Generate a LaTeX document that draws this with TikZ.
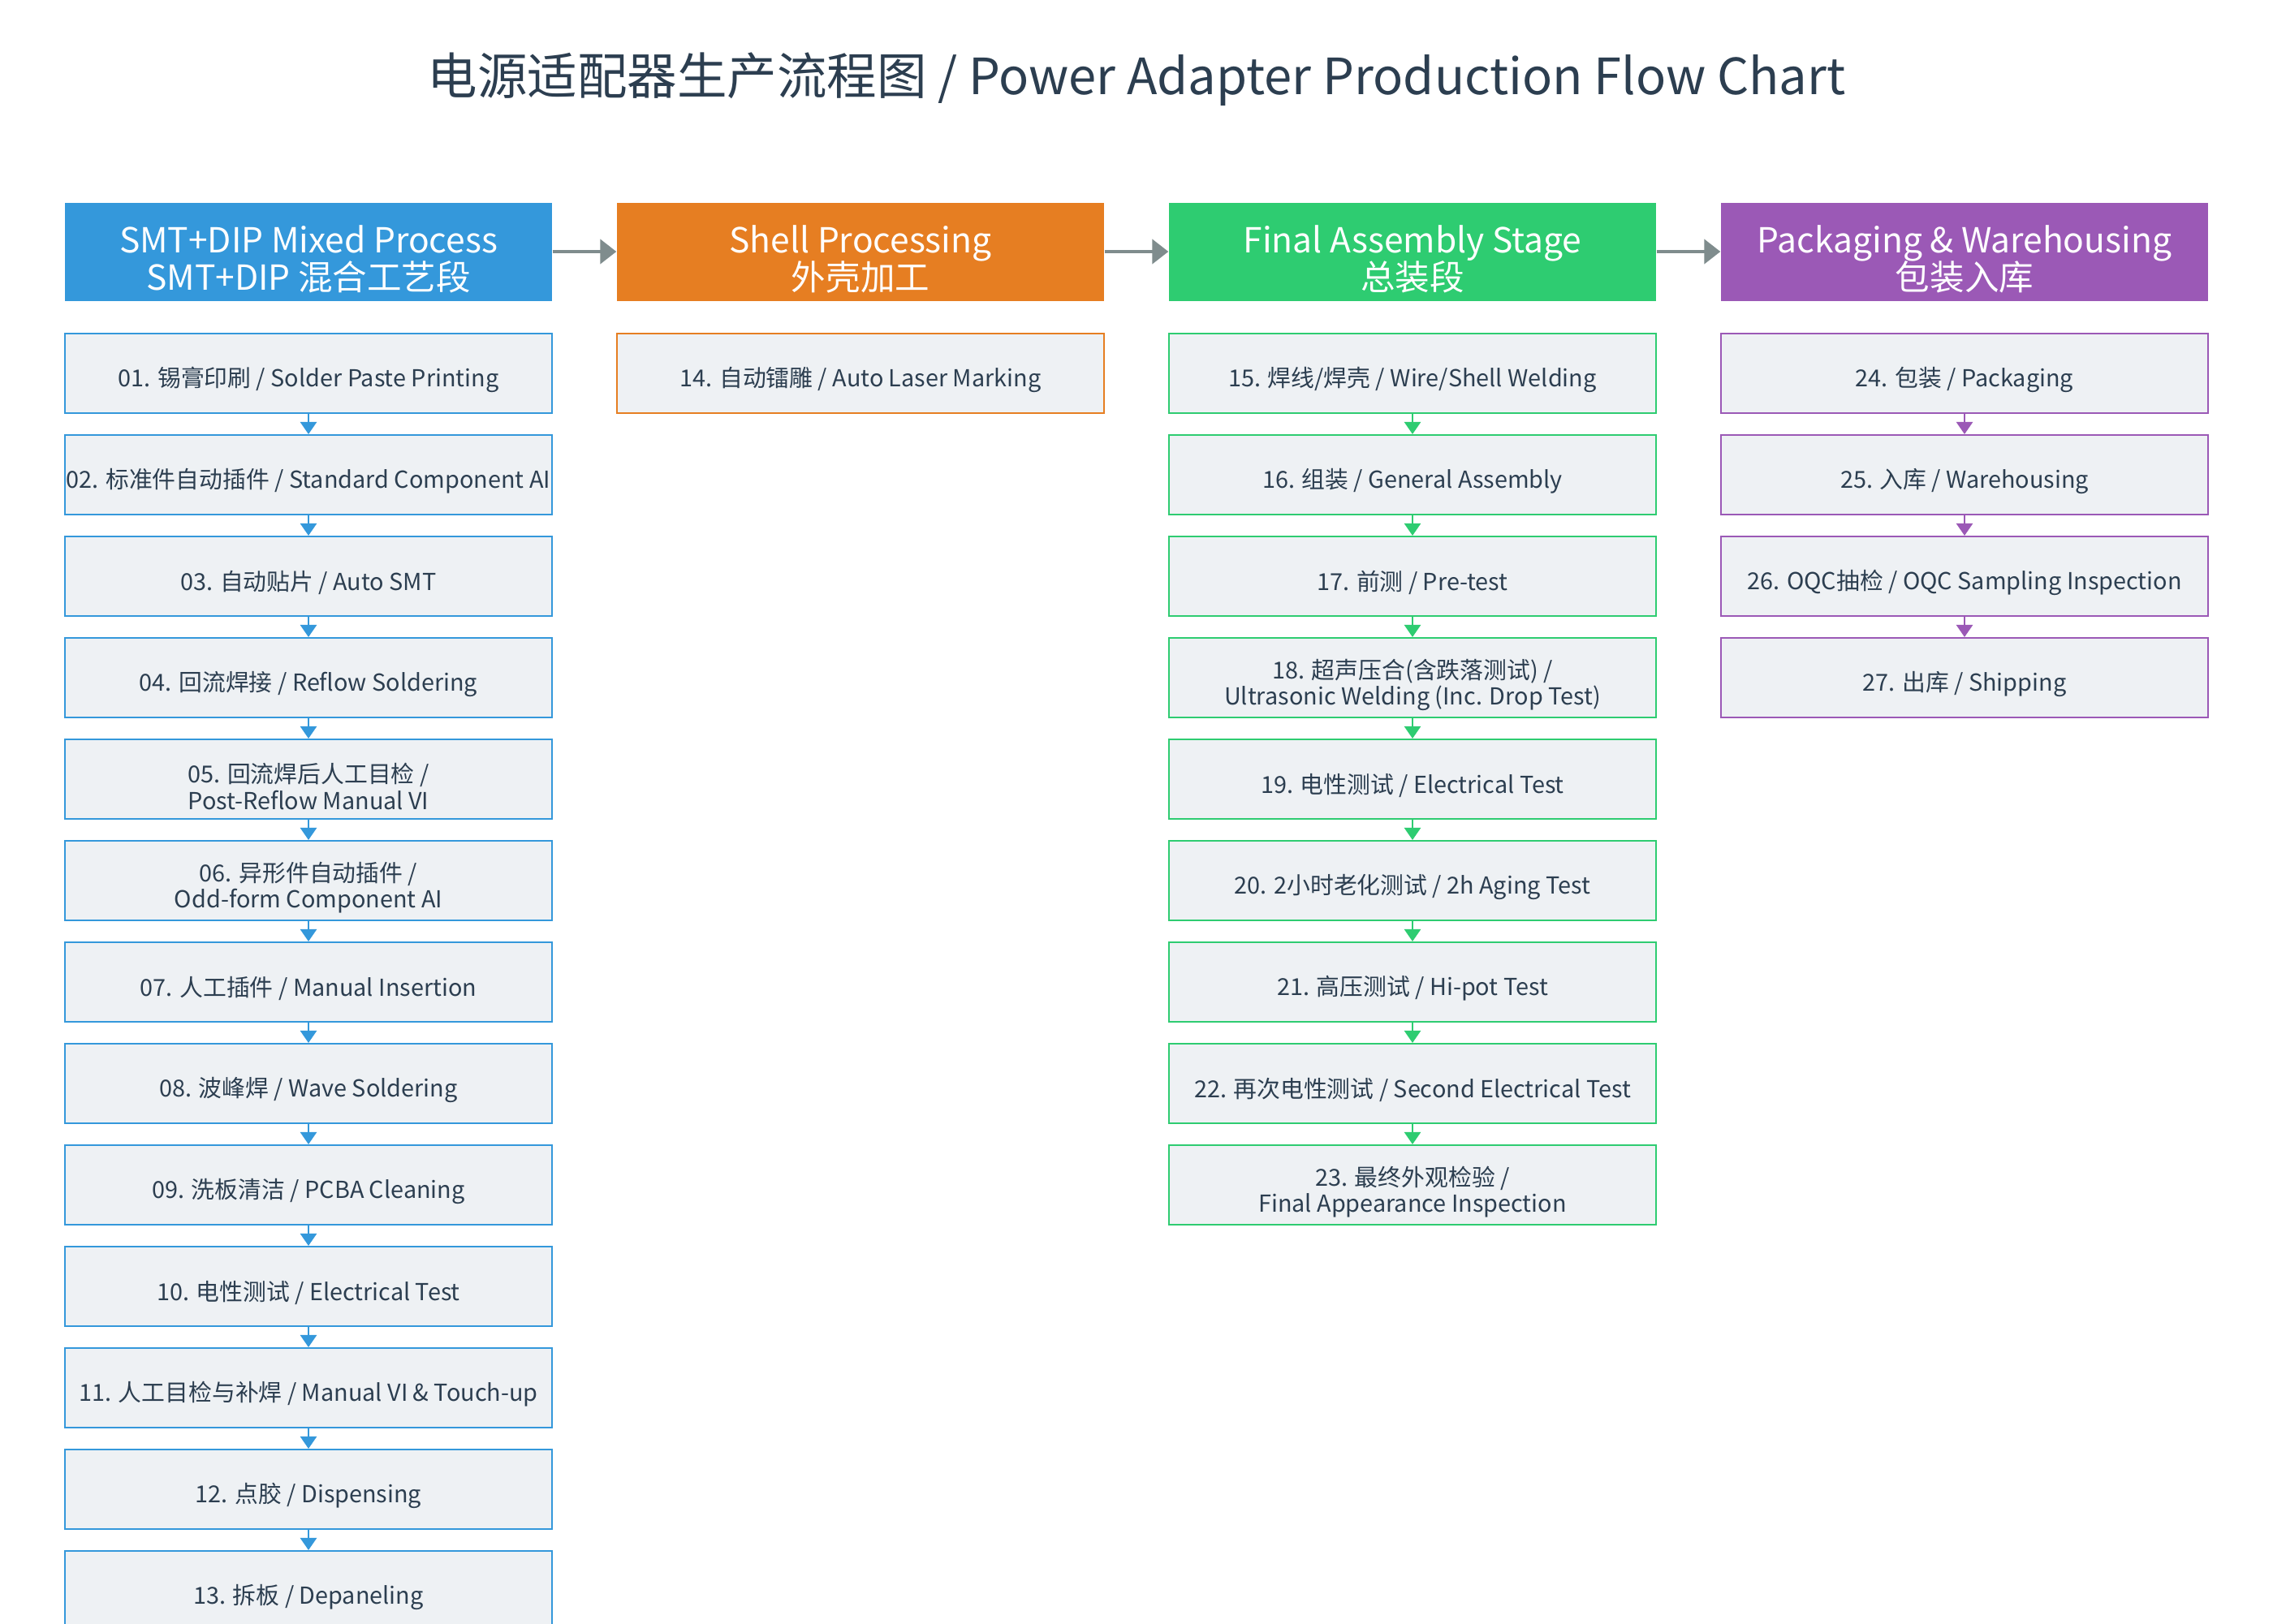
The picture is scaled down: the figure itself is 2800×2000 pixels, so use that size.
\documentclass[tikz,border=0pt]{standalone}
\usepackage{fontspec}
\setmainfont{Noto Sans CJK SC}
\usepackage{tikz}
\usetikzlibrary{positioning,arrows.meta}
\definecolor{smtblue}{HTML}{3498DB}
\definecolor{shellorange}{HTML}{E67E22}
\definecolor{assygreen}{HTML}{2ECC71}
\definecolor{packpurple}{HTML}{9B59B6}
\definecolor{flowgray}{HTML}{7F8C8D}
\definecolor{boxfill}{HTML}{EEF1F4}
\definecolor{ink}{HTML}{2C3E50}
\newcommand{\tightlines}{\lineskiplimit -10pt\relax}

\begin{document}
\begin{tikzpicture}[x=0.1mm, y=-0.1mm,
    textlift/.style={execute at begin node={\rule{0pt}{#1}}},
    header/.style={fill=#1, text=white, minimum width=60mm, minimum height=12.1mm,
        align=center, inner sep=0pt,
        font=\fontsize{12.1pt}{13.1pt}\selectfont\tightlines,
        textlift=28pt},
    stepbox/.style={draw=#1, line width=0.6pt, fill=boxfill, text=ink,
        minimum width=60mm, minimum height=9.8mm, align=center, inner sep=0pt,
        font=\fontsize{8.2pt}{9.2pt}\selectfont\tightlines,
        textlift=11.2pt},
    twoline/.style={textlift=21.2pt},
    stagearrow/.style={draw=flowgray, line width=1.15pt, -{Triangle[length=2mm, width=3mm]}},
    steparrow/.style={draw=#1, line width=0.7pt, -{Triangle[length=1.5mm, width=2mm]}}]
    \useasboundingbox (0,0) rectangle (2800,2000);
    \fill[white] (0,0) rectangle (2800,2000);

    % Title
    \node[text=ink, font=\fontsize{17.5pt}{20pt}\selectfont] (title) at (1400,98)
        {电源适配器生产流程图 / Power Adapter Production Flow Chart};

    % Stage headers
    \node[header=smtblue] (smt) at (380,310) {SMT+DIP Mixed Process\\SMT+DIP 混合工艺段};
    \node[header=shellorange] (shell) at (1060,310) {Shell Processing\\外壳加工};
    \node[header=assygreen] (assy) at (1740,310) {Final Assembly Stage\\总装段};
    \node[header=packpurple] (pack) at (2420,310) {Packaging \& Warehousing\\包装入库};

    \draw[stagearrow] (smt.east) -- (shell.west);
    \draw[stagearrow] (shell.east) -- (assy.west);
    \draw[stagearrow] (assy.east) -- (pack.west);

    % SMT+DIP steps
    \node[stepbox=smtblue] (s01) at (380,460) {01. 锡膏印刷 / Solder Paste Printing};
    \node[stepbox=smtblue] (s02) at (380,585) {02. 标准件自动插件 / Standard Component AI};
    \node[stepbox=smtblue] (s03) at (380,710) {03. 自动贴片 / Auto SMT};
    \node[stepbox=smtblue] (s04) at (380,835) {04. 回流焊接 / Reflow Soldering};
    \node[stepbox=smtblue, twoline] (s05) at (380,960) {05. 回流焊后人工目检 /\\Post-Reflow Manual VI};
    \node[stepbox=smtblue, twoline] (s06) at (380,1085) {06. 异形件自动插件 /\\Odd-form Component AI};
    \node[stepbox=smtblue] (s07) at (380,1210) {07. 人工插件 / Manual Insertion};
    \node[stepbox=smtblue] (s08) at (380,1335) {08. 波峰焊 / Wave Soldering};
    \node[stepbox=smtblue] (s09) at (380,1460) {09. 洗板清洁 / PCBA Cleaning};
    \node[stepbox=smtblue] (s10) at (380,1585) {10. 电性测试 / Electrical Test};
    \node[stepbox=smtblue] (s11) at (380,1710) {11. 人工目检与补焊 / Manual VI \& Touch-up};
    \node[stepbox=smtblue] (s12) at (380,1835) {12. 点胶 / Dispensing};
    \node[stepbox=smtblue] (s13) at (380,1960) {13. 拆板 / Depaneling};

    \foreach \a/\b in {s01/s02,s02/s03,s03/s04,s04/s05,s05/s06,s06/s07,
                       s07/s08,s08/s09,s09/s10,s10/s11,s11/s12,s12/s13}
        \draw[steparrow=smtblue] (\a.south) -- (\b.north);

    % Shell step
    \node[stepbox=shellorange] (s14) at (1060,460) {14. 自动镭雕 / Auto Laser Marking};

    % Final assembly steps
    \node[stepbox=assygreen] (s15) at (1740,460) {15. 焊线/焊壳 / Wire/Shell Welding};
    \node[stepbox=assygreen] (s16) at (1740,585) {16. 组装 / General Assembly};
    \node[stepbox=assygreen] (s17) at (1740,710) {17. 前测 / Pre-test};
    \node[stepbox=assygreen, twoline] (s18) at (1740,835) {18. 超声压合(含跌落测试) /\\Ultrasonic Welding (Inc. Drop Test)};
    \node[stepbox=assygreen] (s19) at (1740,960) {19. 电性测试 / Electrical Test};
    \node[stepbox=assygreen] (s20) at (1740,1085) {20. 2小时老化测试 / 2h Aging Test};
    \node[stepbox=assygreen] (s21) at (1740,1210) {21. 高压测试 / Hi-pot Test};
    \node[stepbox=assygreen] (s22) at (1740,1335) {22. 再次电性测试 / Second Electrical Test};
    \node[stepbox=assygreen, twoline] (s23) at (1740,1460) {23. 最终外观检验 /\\Final Appearance Inspection};

    \foreach \a/\b in {s15/s16,s16/s17,s17/s18,s18/s19,s19/s20,s20/s21,s21/s22,s22/s23}
        \draw[steparrow=assygreen] (\a.south) -- (\b.north);

    % Packaging steps
    \node[stepbox=packpurple] (s24) at (2420,460) {24. 包装 / Packaging};
    \node[stepbox=packpurple] (s25) at (2420,585) {25. 入库 / Warehousing};
    \node[stepbox=packpurple] (s26) at (2420,710) {26. OQC抽检 / OQC Sampling Inspection};
    \node[stepbox=packpurple] (s27) at (2420,835) {27. 出库 / Shipping};

    \foreach \a/\b in {s24/s25,s25/s26,s26/s27}
        \draw[steparrow=packpurple] (\a.south) -- (\b.north);
\end{tikzpicture}
\end{document}
